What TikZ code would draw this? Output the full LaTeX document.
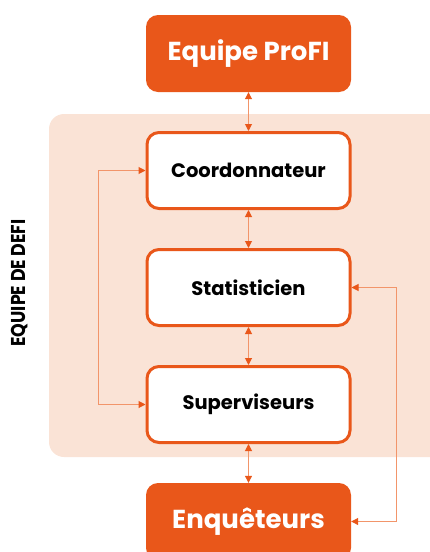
\documentclass[tikz,border=0pt]{standalone}
\usepackage{fontspec}
\setmainfont{Poppins}
\usetikzlibrary{positioning, arrows.meta}
\definecolor{profiorange}{HTML}{E9571A}
\definecolor{linkorange}{HTML}{F2956A}
\definecolor{defipeach}{HTML}{FAE3D6}

\begin{document}
\begin{tikzpicture}
	[x=1pt, y=1pt, on grid, node distance=117pt,
	 outer/.style={rectangle, rounded corners=12pt, fill=profiorange, text=white,
	   minimum width=205pt, minimum height=77pt, font=\bfseries\fontsize{26}{30}\selectfont},
	 inner/.style={rectangle, rounded corners=12pt, draw=profiorange, line width=3pt, fill=white,
	   minimum width=203pt, minimum height=76pt, font=\bfseries\fontsize{19.5}{23}\selectfont},
	 link/.style={draw=linkorange, line width=1pt, >={Triangle[length=7pt, width=7pt, color=profiorange]}}]
   \useasboundingbox (0,0) rectangle (430,-552);
   \clip (0,0) rectangle (430,-552);
   \fill[defipeach, rounded corners=15pt] (49,-114) rectangle (450,-457);
   \node[outer] (profi) at (248.5,-53.5) {Equipe ProFI}; 
   \node[inner] (coord) [below=of profi] {Coordonnateur}; 
   \node[inner] (stat) [below=of coord] {Statisticien}; 
   \node[inner] (superv) [below=of stat] {Superviseurs};
   \node[outer] (enq) [below=of superv] {Enquêteurs};
   \node[rotate=90, xscale=0.87, font=\bfseries\fontsize{20}{22}\selectfont] (defi) at (20,-283) {EQUIPE DE DEFI};
   \coordinate (leftrail) at (98,0);
   \coordinate (rightrail) at (396,0);
    \path[link, <->] 
    (profi) edge (coord)
    (coord) edge (stat)
    (stat) edge (superv)
    (superv) edge (enq);
    \draw[link, <->] (coord.west) -- (coord.west -| leftrail) |- (superv.west);
    \draw[link, <->] (stat.east) -- (stat.east -| rightrail) |- (enq.east);
\end{tikzpicture}
\end{document}
